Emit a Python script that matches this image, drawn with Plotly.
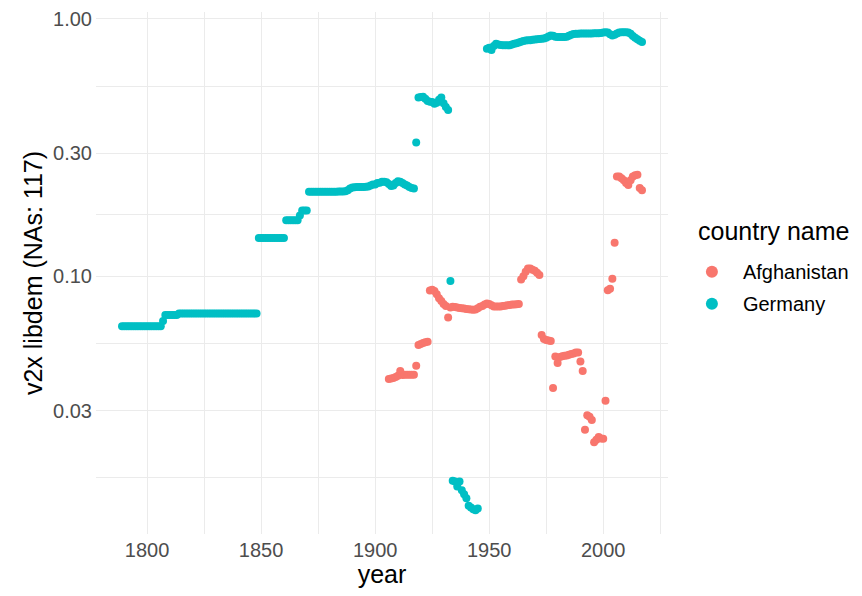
import plotly.graph_objects as go

# ---------------- data ----------------
countries = ["Afghanistan", "Germany"]

germany_years_1 = list(range(1789, 1946))
germany_vals_1 = [
    # 1789-1806
    0.0638, 0.0638, 0.0638, 0.0638, 0.0638, 0.0638, 0.0638, 0.0638, 0.0638,
    0.0638, 0.0638, 0.0638, 0.0638, 0.0638, 0.0638, 0.0638, 0.0638, 0.0638,
    # 1807
    0.0670,
    # 1808-1813
    0.0707, 0.0707, 0.0707, 0.0707, 0.0707, 0.0707,
    # 1814-1848
    0.0716, 0.0716, 0.0716, 0.0716, 0.0716, 0.0716, 0.0716, 0.0716, 0.0716,
    0.0716, 0.0716, 0.0716, 0.0716, 0.0716, 0.0716, 0.0716, 0.0716, 0.0716,
    0.0716, 0.0716, 0.0716, 0.0716, 0.0716, 0.0716, 0.0716, 0.0716, 0.0716,
    0.0716, 0.0716, 0.0716, 0.0716, 0.0716, 0.0716, 0.0716, 0.0716,
    # 1849-1860
    0.1406, 0.1406, 0.1406, 0.1406, 0.1406, 0.1406, 0.1406, 0.1406, 0.1406,
    0.1406, 0.1406, 0.1406,
    # 1861-1866
    0.1650, 0.1650, 0.1650, 0.1650, 0.1650, 0.1650,
    # 1867
    0.1720,
    # 1868-1870
    0.1800, 0.1800, 0.1800,
    # 1871-1887
    0.2130, 0.2130, 0.2130, 0.2130, 0.2130, 0.2130, 0.2130, 0.2130, 0.2130,
    0.2130, 0.2130, 0.2130, 0.2130, 0.2135, 0.2135, 0.2135, 0.2140,
    # 1888-1889
    0.2160, 0.2190,
    # 1890-1897
    0.2210, 0.2215, 0.2220, 0.2220, 0.2220, 0.2220, 0.2225, 0.2230,
    # 1898-1917
    0.2250, 0.2270, 0.2270, 0.2300, 0.2310, 0.2330, 0.2330, 0.2320, 0.2280,
    0.2240, 0.2250, 0.2300, 0.2340, 0.2330, 0.2300, 0.2270, 0.2250, 0.2220,
    0.2200, 0.2190,
    # 1918
    0.3310,
    # 1919-1932
    0.495, 0.497, 0.498, 0.490, 0.480, 0.477, 0.475, 0.468, 0.472, 0.485,
    0.495, 0.470, 0.455, 0.443,
    # 1933
    0.0957,
    # 1934-1945
    0.0160, 0.0159, 0.0152, 0.0159, 0.0147, 0.0142, 0.0137, 0.0128, 0.0126,
    0.0124, 0.0123, 0.0125,
]

germany_years_2 = list(range(1949, 2018))
germany_vals_2 = [
    0.765, 0.772, 0.757, 0.785, 0.800, 0.795, 0.792, 0.790, 0.790, 0.790,
    0.790, 0.795, 0.800, 0.805, 0.810, 0.815, 0.820, 0.825, 0.826, 0.827,
    0.830, 0.832, 0.834, 0.836, 0.838, 0.840, 0.845, 0.855, 0.862, 0.860,
    0.852, 0.850, 0.850, 0.850, 0.850, 0.852, 0.860, 0.868, 0.873, 0.875,
    0.876, 0.877, 0.877, 0.877, 0.878, 0.878, 0.878, 0.879, 0.879, 0.880,
    0.882, 0.885, 0.888, 0.885, 0.872, 0.862, 0.868, 0.878, 0.885, 0.888,
    0.888, 0.888, 0.885, 0.875, 0.858, 0.845, 0.833, 0.822, 0.813,
]

afghanistan_years = list(range(1906, 2018))
afghanistan_vals = [
    0.0398, 0.0400, 0.0402, 0.0405, 0.0410, 0.0428, 0.0413, 0.0414, 0.0414, 0.0414,
    0.0414, 0.0414, 0.0448, 0.0540, 0.0545, 0.0550, 0.0553, 0.0556, 0.0880, 0.0885,
    0.0875, 0.0850, 0.0820, 0.0800, 0.0780, 0.0765, 0.0690, 0.0755, 0.0760, 0.0758,
    0.0755, 0.0752, 0.0750, 0.0748, 0.0745, 0.0743, 0.0742, 0.0741, 0.0742, 0.0750,
    0.0760, 0.0765, 0.0775, 0.0783, 0.0780, 0.0770, 0.0762, 0.0762, 0.0762, 0.0762,
    0.0765, 0.0768, 0.0771, 0.0773, 0.0775, 0.0776, 0.0777, 0.0780, 0.0970, 0.1000,
    0.1040, 0.1070, 0.1070, 0.1060, 0.1050, 0.1030, 0.1010, 0.0590, 0.0570, 0.0565,
    0.0562, 0.0560, 0.0367, 0.0487, 0.0460, 0.0485, 0.0488, 0.0490, 0.0492, 0.0495,
    0.0498, 0.0500, 0.0505, 0.0505, 0.0466, 0.0428, 0.0253, 0.0288, 0.0284, 0.0276,
    0.0226, 0.0231, 0.0237, 0.0234, 0.0233, 0.0328, 0.0881, 0.0893, 0.0976, 0.1350,
    0.2440, 0.2440, 0.2400, 0.2360, 0.2300, 0.2260, 0.2360, 0.2440, 0.2470, 0.2480,
    0.2200, 0.2160,
]

x_ticks = [1800, 1850, 1900, 1950, 2000]
x_minor = [1825, 1875, 1925, 1975, 2025]
y_ticks = [0.03, 0.1, 0.3, 1.0]
y_ticktext = ["0.03", "0.10", "0.30", "1.00"]
y_minor = [0.01643, 0.05477, 0.1732, 0.5477]

colors = {"Afghanistan": "#F8766D", "Germany": "#00BFC4"}

# ---------------- figure ----------------
FONT = "Liberation Sans, Arial, sans-serif"
TICK = 20
LEG = 20
TITLE = 25
fig = go.Figure()

series = {
    "Afghanistan": (afghanistan_years, afghanistan_vals),
    "Germany": (germany_years_1 + germany_years_2, germany_vals_1 + germany_vals_2),
}
for c in countries:
    xs, ys = series[c]
    fig.add_trace(go.Scatter(
        x=xs, y=ys, mode="markers", name=c, legendgroup=c,
        marker=dict(size=8, color=colors[c], line=dict(width=0)),
    ))

grid = "#EBEBEB"
# The page body has an 8px margin, so the figure starts 8px in and is sized
# to fit the window without scrollbars; pixel positions are "page - 8".
L, T, PW, PH = 88, 0, 576, 526
W, H = 846, 580
fig.update_layout(
    width=W, height=H, autosize=False,
    margin=dict(l=L, r=W - L - PW, t=T, b=H - T - PH, pad=0),
    paper_bgcolor="white", plot_bgcolor="white",
    font=dict(family=FONT, color="black"),
    xaxis=dict(
        range=[1777.6, 2028.4],
        tickmode="array", tickvals=x_ticks,
        showgrid=True, gridcolor=grid, gridwidth=1.4,
        minor=dict(tickmode="array", tickvals=x_minor, showgrid=True,
                   gridcolor=grid, gridwidth=0.8),
        zeroline=False, showline=False, ticks="",
        tickfont=dict(size=TICK, color="#4D4D4D", family=FONT),
        ticklabelstandoff=2, ticklabeloverflow="allow",
        title=dict(text="year", font=dict(size=TITLE, color="black", family=FONT), standoff=4),
    ),
    yaxis=dict(
        type="log", range=[-2.0025, 0.027],
        tickmode="array", tickvals=y_ticks, ticktext=y_ticktext,
        showgrid=True, gridcolor=grid, gridwidth=1.4,
        minor=dict(tickmode="array", tickvals=y_minor, showgrid=True,
                   gridcolor=grid, gridwidth=0.8),
        zeroline=False, showline=False, ticks="",
        tickfont=dict(size=TICK, color="#4D4D4D", family=FONT),
        ticklabelstandoff=3, ticklabeloverflow="allow",
        title=dict(text="v2x libdem (NAs: 117)", font=dict(size=TITLE, color="black", family=FONT), standoff=3),
    ),
    legend=dict(
        font=dict(size=LEG, color="black", family=FONT),
        x=(677 - L) / PW, xanchor="left",
        y=1 - (242 - T) / PH, yanchor="top",
        bgcolor="rgba(0,0,0,0)", borderwidth=0,
        tracegroupgap=3, itemsizing="constant", itemwidth=52,
    ),
    annotations=[dict(
        text="country name", showarrow=False,
        xref="paper", yref="paper",
        x=(692 - L) / PW, xanchor="left",
        y=1 - (221 - T) / PH, yanchor="middle",
        font=dict(size=TITLE, color="black", family=FONT),
    )],
)

fig.write_html("out.html")
